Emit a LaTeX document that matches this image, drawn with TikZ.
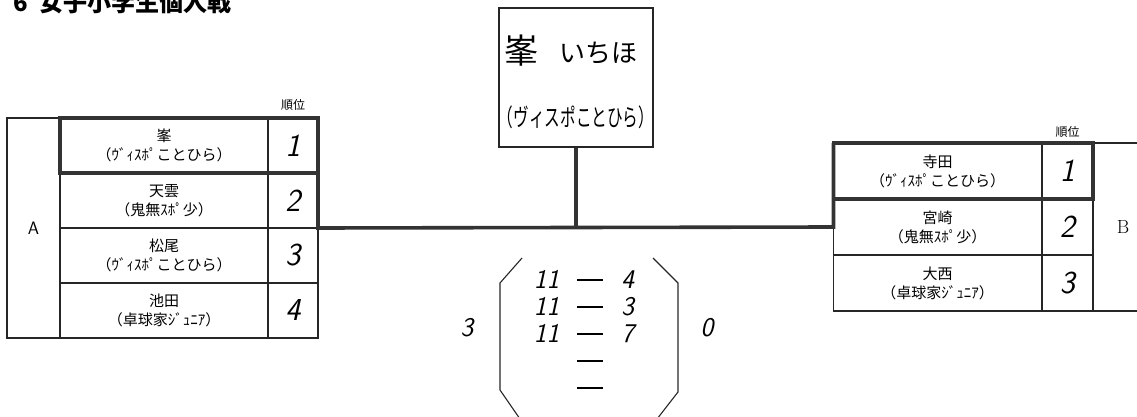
\documentclass[tikz,border=0pt]{standalone}
\usepackage{fontspec}
\newfontfamily\jp{Noto Sans CJK JP}
\usetikzlibrary{positioning}

\tikzset{
  ink/.style={draw=black!85, line width=1.1pt},
  boldline/.style={draw=black!80, line width=3.6pt},
  namecell/.style={ink, outer sep=0pt, inner sep=0pt, minimum width=208pt, minimum height=55pt,
    align=center, font=\jp\fontsize{15}{19}\selectfont},
  rankcell/.style={ink, outer sep=0pt, inner sep=0pt, minimum width=50pt, minimum height=55pt,
    font=\sffamily\itshape\fontsize{32}{32}\selectfont},
  groupcell/.style={ink, outer sep=0pt, inner sep=0pt},
  hand/.style={font=\sffamily\itshape\fontsize{27}{27}\selectfont},
}

\begin{document}
\begin{tikzpicture}[x=1pt,y=-1pt]
\useasboundingbox (0,0) rectangle (1137,417);

\node[anchor=base west, font=\jp\bfseries\fontsize{24}{24}\selectfont] (title) at (10,12) {6\ \ 女子小学生個人戦};

% Block A
\node[groupcell, minimum width=53pt, minimum height=220pt, font=\sffamily\fontsize{18}{18}\selectfont] (grpA) at (33.5,228) {A};
\node[namecell] (a1) at (164,145.5) {峯\\（ｳﾞｨｽﾎﾟことひら）};
\node[namecell] (a2) at (164,200.5) {天雲\\（鬼無ｽﾎﾟ少）};
\node[namecell] (a3) at (164,255.5) {松尾\\（ｳﾞｨｽﾎﾟことひら）};
\node[namecell] (a4) at (164,310.5) {池田\\（卓球家ｼﾞｭﾆｱ）};
\node[rankcell] (ra1) at (293,145.5) {1};
\node[rankcell] (ra2) at (293,200.5) {2};
\node[rankcell] (ra3) at (293,255.5) {3};
\node[rankcell] (ra4) at (293,310.5) {4};
\node[font=\jp\fontsize{12}{12}\selectfont] (headA) at (293,105) {順位};

% Block B
\node[groupcell, minimum width=60pt, minimum height=168pt, font=\fontsize{19}{19}\selectfont] (grpB) at (1123,227) {B};
\node[namecell, minimum height=56pt] (b1) at (937.5,171) {寺田\\（ｳﾞｨｽﾎﾟことひら）};
\node[namecell, minimum height=56pt] (b2) at (937.5,227) {宮崎\\（鬼無ｽﾎﾟ少）};
\node[namecell, minimum height=56pt] (b3) at (937.5,283) {大西\\（卓球家ｼﾞｭﾆｱ）};
\node[rankcell, minimum width=51pt, minimum height=56pt] (rb1) at (1067.5,171) {1};
\node[rankcell, minimum width=51pt, minimum height=56pt] (rb2) at (1067.5,227) {2};
\node[rankcell, minimum width=51pt, minimum height=56pt] (rb3) at (1067.5,283) {3};
\node[font=\jp\fontsize{12}{12}\selectfont] (headB) at (1067.5,132) {順位};

% winners
\draw[boldline] (a1.south west) rectangle (ra1.north east);
\draw[boldline] (b1.south west) rectangle (rb1.north east);
\draw[boldline] (ra1.north east) -- (ra2.south east) -- (b2.west) -- (b1.north west);

% Umpire
\node[ink, minimum width=154pt, minimum height=139pt] (ump) at (576,77.5) {};
\node[anchor=base, font=\jp\fontsize{34}{34}\selectfont] (umpsei) at (521,64) {峯};
\node[anchor=base, font=\jp\fontsize{26}{26}\selectfont] (umpmei) at (598,63) {いちほ};
\node[font=\jp\fontsize{22}{22}\selectfont] (umpclub) at (576,117) {\scalebox{0.71}[1.1]{（ヴィスポことひら）}};
\draw[boldline] (ump.south) -- (ump.south |- b2.west);

%Results
\node[hand] (winA) at (467,328) {3};
\node[hand] (winB) at (707,328) {0};
\node[hand] (games) at (584,337) {%
  \begin{tabular}{@{}c@{\hspace{18pt}}c@{\hspace{18pt}}c@{}}
  11 & \rule[7pt]{26pt}{2.2pt} & 4\\
  11 & \rule[7pt]{26pt}{2.2pt} & 3\\
  11 & \rule[7pt]{26pt}{2.2pt} & 7\\
     & \rule[7pt]{26pt}{2.2pt} & \\
     & \rule[7pt]{26pt}{2.2pt} &
  \end{tabular}};
\coordinate (lt) at (522,258);
\coordinate (lb) at (520,419);
\coordinate (rt) at (653,258);
\coordinate (rb) at (657,419);
\draw[ink] (lt) -- (500,283) -- (500,390) -- (lb);
\draw[ink] (rt) -- (678,283) -- (678,392) -- (rb);

\end{tikzpicture}
\end{document}
